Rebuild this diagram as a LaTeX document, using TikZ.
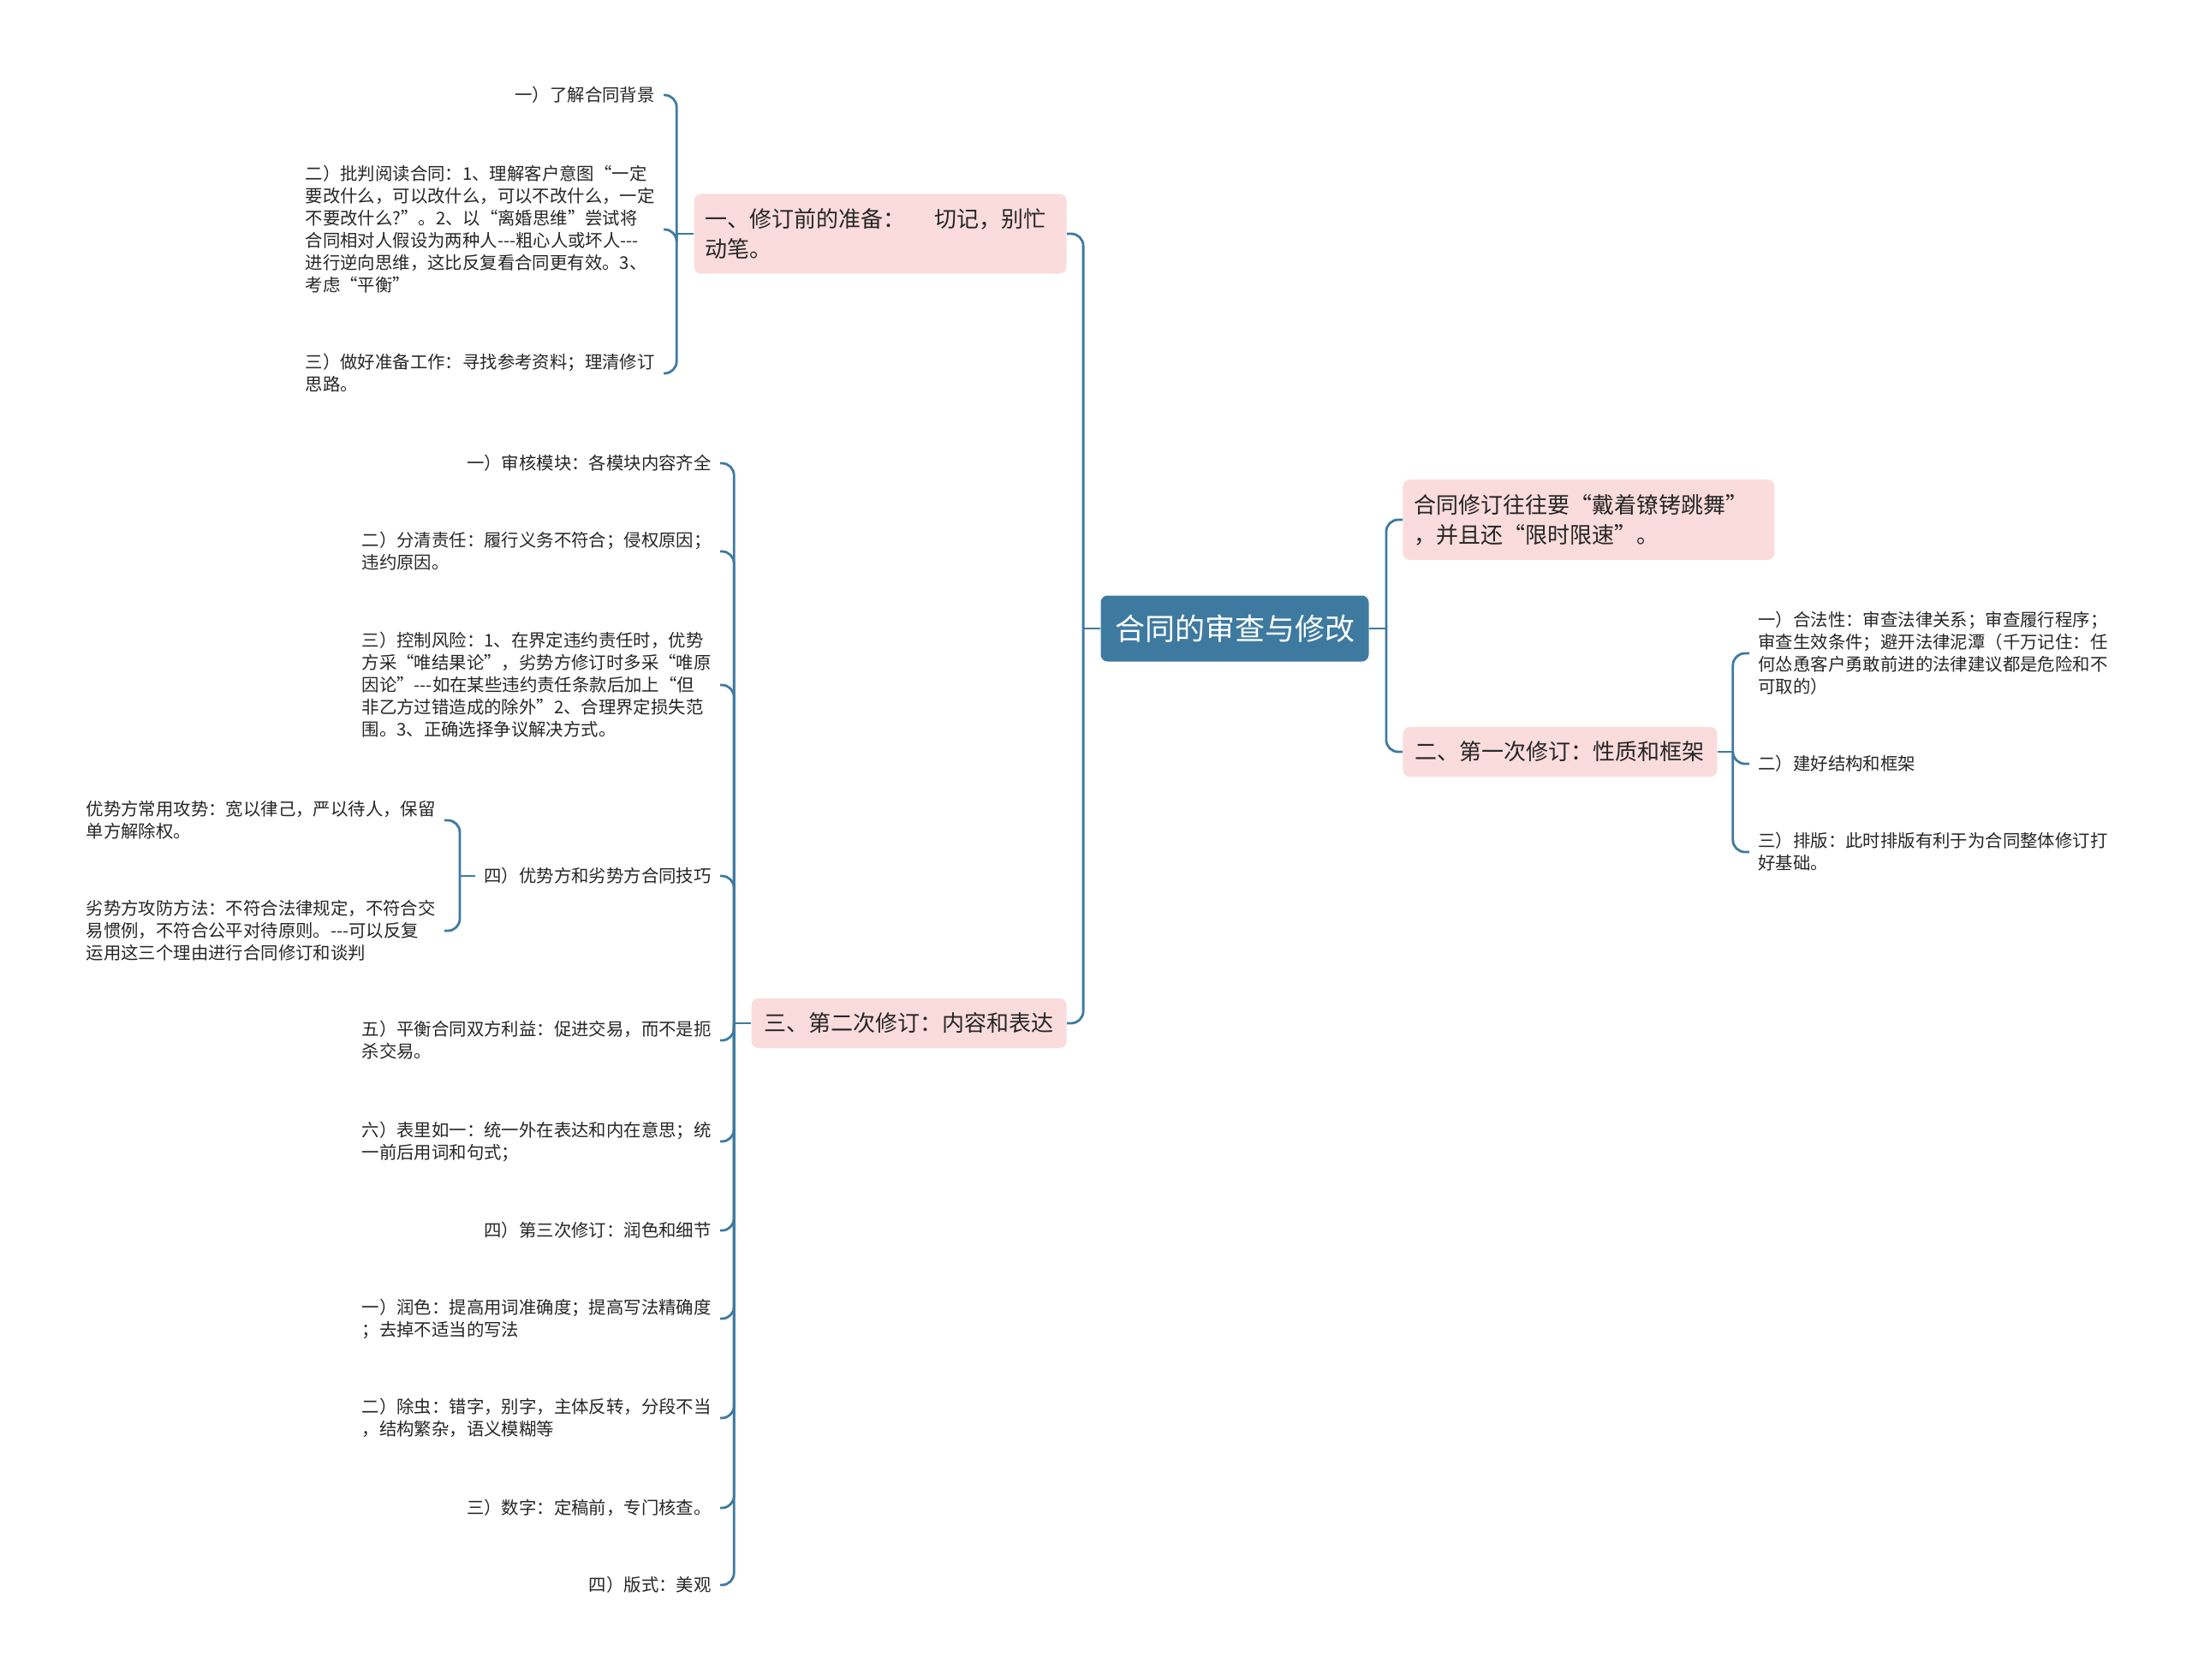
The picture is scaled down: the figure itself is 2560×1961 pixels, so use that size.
\documentclass[tikz,border=0pt]{standalone}
\usepackage{fontspec}
\setmainfont{Noto Sans CJK SC}
\usepackage{xcolor}
\usepackage{tikz}
\definecolor{mapblue}{HTML}{3E7AA0}
\definecolor{mappink}{HTML}{FBDCDC}

\begin{document}
\begin{tikzpicture}[x=0.5pt, y=-0.5pt,
  root/.style={fill=mapblue, text=white, rounded corners=4pt, font=\fontsize{17.5pt}{21pt}\selectfont, minimum width=156.5pt, minimum height=38.5pt, inner sep=0pt},
  topic/.style={fill=mappink, rounded corners=4pt, font=\fontsize{13pt}{17.5pt}\selectfont, align=left, inner xsep=6.5pt, inner ysep=8.5pt, text=black!85},
  leaf/.style={font=\fontsize{10.2pt}{13pt}\selectfont, align=left, inner xsep=5pt, inner ysep=2pt, text=black!85},
  link/.style={draw=mapblue, line width=1.4pt, rounded corners=7pt}]
 \useasboundingbox (0,0) rectangle (2560,1961);
 % centre
 \node[root] (root) at (1442,734) {合同的审查与修改};
 \coordinate (jroot) at ([xshift=-10pt]root.west);
 \coordinate (jrootr) at ([xshift=10pt]root.east);
 % left topics
 \node[topic, anchor=east, text width=204.5pt] (L1) at (1246,273) {一、修订前的准备：\hspace{17pt}切记，别忙\\动笔。};
 \node[topic, anchor=east, minimum width=184pt] (L3) at (1246,1195) {三、第二次修订：内容和表达};
 \coordinate (jL1) at ([xshift=-10pt]L1.west);
 \coordinate (jL3) at ([xshift=-10pt]L3.west);
 % right topics
 \node[topic, anchor=west, text width=204pt] (R1) at (1638,607) {合同修订往往要“戴着镣铐跳舞”\\，并且还“限时限速”。};
 \node[topic, anchor=west, minimum width=183.5pt] (R2) at (1638,878) {二、第一次修订：性质和框架};
 \coordinate (jR2) at ([xshift=9pt]R2.east);
 % leaves of L1
 \node[leaf, anchor=east] (a1) at (775,111) {一）了解合同背景};
 \node[leaf, anchor=east] (a2) at (775,268) {二）批判阅读合同：1、理解客户意图“一定\\要改什么，可以改什么，可以不改什么，一定\\不要改什么?”。2、以“离婚思维”尝试将\\合同相对人假设为两种人{-}{-}{-}粗心人或坏人{-}{-}{-}\\进行逆向思维，这比反复看合同更有效。3、\\考虑“平衡”};
 \node[leaf, anchor=east] (a3) at (775,436) {三）做好准备工作：寻找参考资料；理清修订\\思路。};
 % leaves of L3
 \node[leaf, anchor=east] (b1) at (841,541) {一）审核模块：各模块内容齐全};
 \node[leaf, anchor=east] (b2) at (841,644) {二）分清责任：履行义务不符合；侵权原因；\\违约原因。};
 \node[leaf, anchor=east] (b3) at (841,800) {三）控制风险：1、在界定违约责任时，优势\\方采“唯结果论”，劣势方修订时多采“唯原\\因论”{-}{-}{-}如在某些违约责任条款后加上“但\\非乙方过错造成的除外”2、合理界定损失范\\围。3、正确选择争议解决方式。};
 \node[leaf, anchor=east] (b4) at (841,1023) {四）优势方和劣势方合同技巧};
 \node[leaf, anchor=east] (b5) at (841,1215) {五）平衡合同双方利益：促进交易，而不是扼\\杀交易。};
 \node[leaf, anchor=east] (b6) at (841,1333) {六）表里如一：统一外在表达和内在意思；统\\一前后用词和句式；};
 \node[leaf, anchor=east] (b7) at (841,1437) {四）第三次修订：润色和细节};
 \node[leaf, anchor=east] (b8) at (841,1540) {一）润色：提高用词准确度；提高写法精确度\\；去掉不适当的写法};
 \node[leaf, anchor=east] (b9) at (841,1656) {二）除虫：错字，别字，主体反转，分段不当\\，结构繁杂，语义模糊等};
 \node[leaf, anchor=east] (b10) at (841,1761) {三）数字：定稿前，专门核查。};
 \node[leaf, anchor=east] (b11) at (841,1851) {四）版式：美观};
 \coordinate (jb4) at ([xshift=-9pt]b4.west);
 % leaves of b4
 \node[leaf, anchor=east] (c1) at (519,958) {优势方常用攻势：宽以律己，严以待人，保留\\单方解除权。};
 \node[leaf, anchor=east] (c2) at (519,1087) {劣势方攻防方法：不符合法律规定，不符合交\\易惯例，不符合公平对待原则。{-}{-}{-}可以反复\\运用这三个理由进行合同修订和谈判};
 % leaves of R2
 \node[leaf, anchor=west] (d1) at (2043,763) {一）合法性：审查法律关系；审查履行程序；\\审查生效条件；避开法律泥潭（千万记住：任\\何怂恿客户勇敢前进的法律建议都是危险和不\\可取的）};
 \node[leaf, anchor=west] (d2) at (2043,892) {二）建好结构和框架};
 \node[leaf, anchor=west] (d3) at (2043,995) {三）排版：此时排版有利于为合同整体修订打\\好基础。};
 % connectors
 \draw[link] (root.west) -- (jroot);
 \draw[link] (jroot) |- (L1.east);
 \draw[link] (jroot) |- (L3.east);
 \draw[link] (root.east) -- (jrootr);
 \draw[link] (jrootr) |- (R1.west);
 \draw[link] (jrootr) |- (R2.west);
 \draw[link] (L1.west) -- (jL1);
 \foreach \n in {a1,a2,a3} \draw[link] (jL1) |- (\n.east);
 \draw[link] (L3.west) -- (jL3);
 \foreach \n in {b1,b2,b3,b4,b5,b6,b7,b8,b9,b10,b11} \draw[link] (jL3) |- (\n.east);
 \draw[link] (b4.west) -- (jb4);
 \foreach \n in {c1,c2} \draw[link] (jb4) |- (\n.east);
 \draw[link] (R2.east) -- (jR2);
 \foreach \n in {d1,d2,d3} \draw[link] (jR2) |- (\n.west);
\end{tikzpicture}
\end{document}
